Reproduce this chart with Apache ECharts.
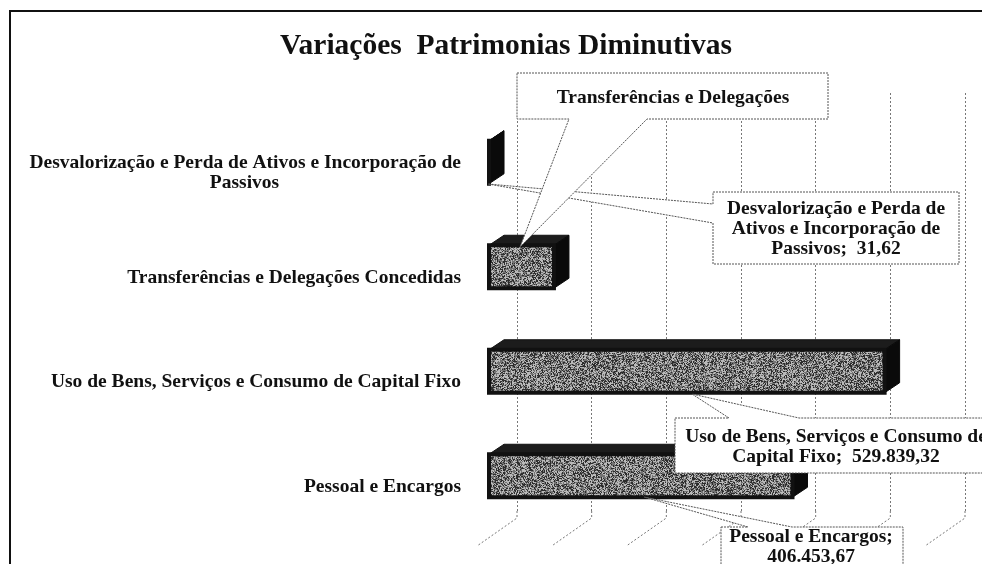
<!DOCTYPE html>
<html>
<head>
<meta charset="utf-8">
<style>
  html, body { margin: 0; padding: 0; background: #fff; }
  #main { width: 982px; height: 564px; }
</style>
<script src="https://cdn.jsdelivr.net/npm/echarts@6/dist/echarts.min.js"></script>
</head>
<body>
<div id="main"></div>
<script>
const titleText = "Variações  Patrimonias Diminutivas";
const categories = [
  "Desvalorização e Perda de Ativos e Incorporação de\nPassivos",
  "Transferências e Delegações Concedidas",
  "Uso de Bens, Serviços e Consumo de Capital Fixo",
  "Pessoal e Encargos"
];
const values = [31.62, 87000, 529839.32, 406453.67];
const gridTicks = [0, 100000, 200000, 300000, 400000, 500000, 600000];
const calloutTexts = [
  "Transferências e Delegações",
  "Desvalorização e Perda de\nAtivos e Incorporação de\nPassivos;  31,62",
  "Uso de Bens, Serviços e Consumo de\nCapital Fixo;  529.839,32",
  "Pessoal e Encargos;\n406.453,67"
];

const serif = '"Liberation Serif", "Times New Roman", serif';

// speckled grey of the scanned bars, fixed seed so every run looks the same
function speckle() {
  const c = document.createElement("canvas");
  c.width = c.height = 256;
  const ctx = c.getContext("2d");
  let s = 12345;
  for (let y = 0; y < 256; y++) {
    for (let x = 0; x < 256; x++) {
      s = (Math.imul(s, 1664525) + 1013904223) >>> 0;
      const r = (s >>> 24) / 255;
      const g = r < 0.3 ? 45 : r < 0.65 ? 115 : 185;
      ctx.fillStyle = "rgb(" + g + "," + g + "," + g + ")";
      ctx.fillRect(x, y, 1, 1);
    }
  }
  return c;
}
const speckleFill = { image: speckle(), repeat: "repeat" };

// oblique offsets of the fake 3D, back wall to bar front
const frontDx = -28, frontDy = 17, depthX = 15, depthY = -10, barHeight = 43;

function renderBar(params, api) {
  const zero = api.coord([0, api.value(1)]);
  const end = api.coord([api.value(0), api.value(1)]);
  const x0 = zero[0] + frontDx;
  const x1 = end[0] + frontDx;
  const y0 = zero[1] + frontDy - barHeight / 2;
  const y1 = y0 + barHeight;
  return {
    type: "group",
    children: [
      {
        type: "polygon",
        shape: { points: [[x0, y0], [x0 + depthX, y0 + depthY], [x1 + depthX, y0 + depthY], [x1, y0]] },
        style: { fill: "#1c1c1c", stroke: "#111", lineWidth: 1 }
      },
      {
        type: "polygon",
        shape: { points: [[x1, y0], [x1 + depthX, y0 + depthY], [x1 + depthX, y1 + depthY], [x1, y1]] },
        style: { fill: "#0a0a0a", stroke: "#0a0a0a", lineWidth: 1 }
      },
      {
        type: "rect",
        shape: { x: x0, y: y0, width: x1 - x0, height: barHeight },
        style: { fill: speckleFill, stroke: "#111", lineWidth: 4 }
      }
    ]
  };
}

function renderFloor(params, api) {
  const p = api.coord([api.value(0), categories.length - 1]);
  const bottom = p[1] + api.size([0, 1])[1] / 2;
  return {
    type: "polyline",
    shape: { points: [[p[0], bottom], [p[0], bottom + 7], [p[0] - 40, bottom + 35]] },
    style: { fill: null, stroke: "#777", lineWidth: 1, lineDash: [2, 2] }
  };
}

function callout(points, cx, cy, text) {
  return {
    type: "group",
    children: [
      {
        type: "polygon",
        z: 50,
        shape: { points: points },
        style: { fill: "#fff", stroke: "#555", lineWidth: 1, lineDash: [2, 1] }
      },
      {
        type: "text",
        z: 51,
        x: cx,
        y: cy,
        style: {
          text: text,
          align: "center",
          verticalAlign: "middle",
          fill: "#111",
          font: "bold 19.5px " + serif,
          lineHeight: 20
        }
      }
    ]
  };
}

const labelStyle = { fontFamily: serif, fontSize: 19.5, fontWeight: "bold", color: "#111", lineHeight: 20 };

const chart = echarts.init(document.getElementById("main"));
chart.setOption({
  animation: false,
  backgroundColor: "#fff",
  title: {
    text: titleText,
    left: 501,
    top: 26,
    textAlign: "center",
    textStyle: { fontFamily: serif, fontSize: 29.5, fontWeight: "bold", color: "#111" }
  },
  grid: { left: 517, top: 93, width: 448, height: 418 },
  xAxis: {
    type: "value",
    min: 0,
    max: 600000,
    interval: 100000,
    axisLine: { show: false },
    axisTick: { show: false },
    axisLabel: { show: false },
    splitLine: { show: true, lineStyle: { color: "#777", type: [2, 2], width: 1 } }
  },
  yAxis: {
    type: "category",
    inverse: true,
    data: categories,
    axisLine: { show: false },
    axisTick: { show: false },
    axisLabel: {
      margin: 56,
      padding: [56, 0, 0, 0],
      align: "right",
      color: "#111",
      formatter: function (v) {
        const lines = v.split("\n");
        if (lines.length == 1) return "{a|" + v + "}";
        return "{a|" + lines[0] + "}\n{b|" + lines[1] + "}";
      },
      rich: {
        a: labelStyle,
        b: Object.assign({ width: 433, align: "center" }, labelStyle)
      }
    }
  },
  series: [
    {
      type: "custom",
      name: "floor",
      renderItem: renderFloor,
      data: gridTicks.map(v => [v]),
      encode: { x: 0 },
      silent: true,
      clip: false,
      z: 1
    },
    {
      type: "custom",
      name: "Variações",
      renderItem: renderBar,
      data: values.map((v, i) => [v, i]),
      encode: { x: 0, y: 1 },
      clip: false,
      z: 5
    }
  ],
  graphic: [
    { type: "rect", z: 60, shape: { x: 10, y: 11, width: 1000, height: 600 }, style: { fill: null, stroke: "#111", lineWidth: 2 } },
    callout([[713, 192], [959, 192], [959, 264], [713, 264], [713, 223], [488, 184], [713, 204]], 836, 229, calloutTexts[1]),
    callout([[517, 73], [828, 73], [828, 119], [647, 119], [520, 247], [569, 119], [517, 119]], 673, 98, calloutTexts[0]),
    callout([[675, 418], [729, 418], [692, 394], [799, 418], [998, 418], [998, 473], [675, 473]], 836, 447, calloutTexts[2]),
    callout([[721, 527], [748, 527], [644, 497], [792, 527], [903, 527], [903, 580], [721, 580]], 811, 547, calloutTexts[3])
  ]
});
</script>
</body>
</html>
